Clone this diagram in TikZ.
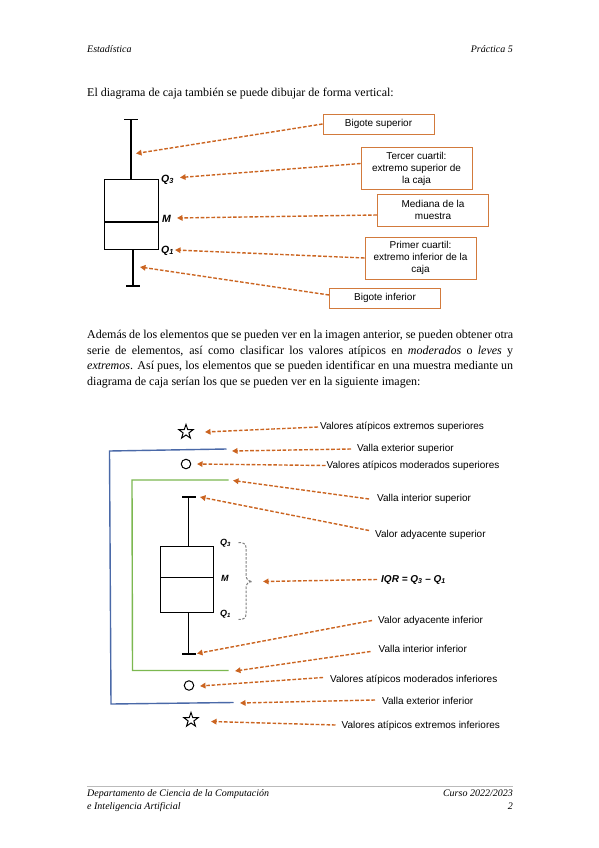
\documentclass[tikz,border=0pt]{standalone}
\usepackage{fontspec}
\setmainfont{Liberation Serif}
\setsansfont{Liberation Sans}
\usetikzlibrary{arrows.meta,shapes.geometric,decorations.pathreplacing}
\definecolor{arrc}{HTML}{CB6420}
\definecolor{boxc}{HTML}{D27A3C}
\definecolor{bluec}{HTML}{4A69A8}
\definecolor{greenc}{HTML}{7CB850}
\definecolor{rulec}{HTML}{BBBBBB}
\begin{document}
\begin{tikzpicture}[x=1pt,y=-1pt,
  arr/.style={draw=arrc, line width=1.4pt, dash pattern=on 3.6pt off 1.8pt, -{Triangle[length=5.5pt,width=5.5pt]}},
  lbox/.style={draw=boxc, line width=0.9pt, font=\sffamily\fontsize{10}{12}\selectfont, align=center, inner sep=0pt, minimum width=111pt},
  lab/.style={font=\sffamily\fontsize{10}{12}\selectfont, inner sep=0pt, anchor=west},
  qlab/.style={font=\sffamily\bfseries\itshape\fontsize{10.5}{11}\selectfont, inner sep=0pt, anchor=west},
  qlabs/.style={font=\sffamily\bfseries\itshape\fontsize{9}{10}\selectfont, inner sep=0pt, anchor=west},
  body/.style={font=\fontsize{12}{14}\selectfont, inner sep=0pt, anchor=base west},
  hdr/.style={font=\itshape\fontsize{10}{11}\selectfont, inner sep=0pt},
  bxp/.style={draw=black, line width=1.2pt},
  bxq/.style={draw=black, line width=1pt},
  whk/.style={draw=black, line width=1.5pt},
  fence/.style={line width=1.4pt},
  star5/.style={star, star points=5, star point ratio=2.5, draw=black, line width=1pt, minimum size=15pt, inner sep=0pt},
  dot/.style={circle, draw=black, line width=1pt, minimum size=9.5pt, inner sep=0pt}
]
\useasboundingbox[fill=white] (0,0) rectangle (599,848);

% header
\node[hdr, anchor=base west] (h1) at (87,53) {Estadística};
\node[hdr, anchor=base east] (h2) at (513,53) {Práctica 5};

\node[body] (t1) at (87,96.5) {El diagrama de caja también se puede dibujar de forma vertical:};

% ---------- first diagram ----------
\draw[whk] (124,119.5) -- (138,119.5);
\draw[whk] (131,119.5) -- (131,179.5);
\draw[bxp] (104.5,179.5) rectangle (158.5,249.5);
\draw[draw=black, line width=2pt] (104.5,221.5) -- (158.5,221.5);
\draw[whk] (133,249.5) -- (133,286);
\draw[whk] (126,286) -- (140,286);

\node[qlab] (q3a) at (161,179.5) {Q\textsubscript{3}};
\node[qlab] (ma) at (162,218.5) {M};
\node[qlab] (q1a) at (161,250.5) {Q\textsubscript{1}};

\node[lbox, minimum height=20pt] (bs) at (378.5,124) {Bigote superior};
\node[lbox, minimum height=42pt] (tc) at (416.5,168.5) {Tercer cuartil:\\extremo superior de\\la caja};
\node[lbox, minimum height=32pt] (md) at (433,210) {Mediana de la\\muestra};
\node[lbox, minimum height=42pt] (pc) at (420.5,258) {Primer cuartil:\\extremo inferior de la\\caja};
\node[lbox, minimum height=20pt] (bi) at (385,298) {Bigote inferior};

\coordinate (e1) at (136,153.5);
\coordinate (e2) at (180,177.5);
\coordinate (e3) at (177,218);
\coordinate (e4) at (175,250);
\coordinate (e5) at (140,267);
\draw[arr] (bs.west) -- (e1);
\draw[arr] ([yshift=5pt]tc.west) -- (e2);
\draw[arr] ([yshift=-5pt]md.west) -- (e3);
\draw[arr] (pc.west) -- (e4);
\draw[arr] ([yshift=3pt]bi.west) -- (e5);

% ---------- paragraph ----------
\node[body] (p1) at (87,338.5) {\makebox[426pt][s]{Además de los elementos que se pueden ver en la imagen anterior, se pueden obtener otra}};
\node[body] (p2) at (87,354) {\makebox[426pt][s]{serie de elementos, así como clasificar los valores atípicos en \textit{moderados} o \textit{leves} y}};
\node[body] (p3) at (87,369.5) {\makebox[426pt][s]{\textit{extremos}. Así pues, los elementos que se pueden identificar en una muestra mediante un}};
\node[body] (p4) at (87,385) {diagrama de caja serían los que se pueden ver en la siguiente imagen:};

% ---------- second diagram ----------
\draw[bluec, fence] (226.5,449) -- (109.5,451) -- (111,704) -- (233.5,702.5);
\draw[greenc, fence] (228.5,480) -- (132,480) -- (132.5,670.5) -- (228.5,670.5);

\draw[whk] (182,497) -- (196,497);
\draw[whk] (188.5,497) -- (188.5,546);
\draw[bxq] (160,546) rectangle (213,612.5);
\draw[bxq] (160,577.5) -- (213,577.5);
\draw[whk] (188.5,612.5) -- (188.5,654);
\draw[whk] (182,654) -- (196,654);

\node[qlabs] (q3b) at (220,543.5) {Q\textsubscript{3}};
\node[qlabs] (mb) at (221,578.5) {M};
\node[qlabs] (q1b) at (220,614.5) {Q\textsubscript{1}};
\draw[gray, line width=1pt, dash pattern=on 2.5pt off 1.5pt]
  (238.5,542.5) .. controls (243,542.5) and (246,543.5) .. (246,547.5)
  -- (246,575) .. controls (246,579) and (248,581) .. (252,581.5)
  .. controls (248,582) and (246,584) .. (246,588)
  -- (246,614.5) .. controls (246,618.5) and (243,619.5) .. (238.5,619.5);

\node[star5] (s1) at (186,432) {};
\node[dot] (c1) at (186,464) {};
\node[dot] (c2) at (189,685.5) {};
\node[star5] (s2) at (191,720) {};

\node[lab] (l1) at (320,427) {Valores atípicos extremos superiores};
\node[lab] (l2) at (357,449) {Valla exterior superior};
\node[lab] (l3) at (326.5,465.5) {Valores atípicos moderados superiores};
\node[lab] (l4) at (377,499) {Valla interior superior};
\node[lab] (l5) at (375,534.5) {Valor adyacente superior};
\node[font=\sffamily\bfseries\itshape\fontsize{10}{12}\selectfont, inner sep=0pt, anchor=west] (l6) at (381,579.5) {IQR = Q\textsubscript{3} – Q\textsubscript{1}};
\node[lab] (l7) at (378,620.5) {Valor adyacente inferior};
\node[lab] (l8) at (378.5,648.5) {Valla interior inferior};
\node[lab] (l9) at (330,680) {Valores atípicos moderados inferiores};
\node[lab] (l10) at (382,701) {Valla exterior inferior};
\node[lab] (l11) at (341.5,726) {Valores atípicos extremos inferiores};

\coordinate (f1) at (205,432);
\coordinate (f2) at (232,451);
\coordinate (f3) at (197,464);
\coordinate (f4) at (233,480.5);
\coordinate (f5) at (200,497);
\coordinate (f6) at (263,581.5);
\coordinate (f7) at (197,653.5);
\coordinate (f8) at (235,671);
\coordinate (f9) at (200,686);
\coordinate (f10) at (240,703);
\coordinate (f11) at (211,721.5);

\draw[arr] ([xshift=-2pt]l1.west) -- (f1);
\draw[arr] ([xshift=-6pt]l2.west) -- (f2);
\draw[arr] ([xshift=-1pt]l3.west) -- (f3);
\draw[arr] ([xshift=-8pt]l4.west) -- (f4);
\draw[arr] ([xshift=-6pt, yshift=4pt]l5.west) -- (f5);
\draw[arr] ([xshift=-4pt]l6.west) -- (f6);
\draw[arr] ([xshift=-6pt]l7.west) -- (f7);
\draw[arr] ([xshift=-8pt, yshift=-3pt]l8.west) -- (f8);
\draw[arr] ([xshift=-7pt, yshift=2.5pt]l9.west) -- (f9);
\draw[arr] ([xshift=-7pt, yshift=1pt]l10.west) -- (f10);
\draw[arr] ([xshift=-6pt, yshift=1pt]l11.west) -- (f11);

% ---------- footer ----------
\draw[rulec, line width=0.6pt] (87,786) -- (513,786);
\node[hdr, anchor=base west] (ft1) at (87,796) {Departamento de Ciencia de la Computación};
\node[hdr, anchor=base west] (ft2) at (87,809) {e Inteligencia Artificial};
\node[hdr, anchor=base east] (ft3) at (513,796) {Curso 2022/2023};
\node[hdr, anchor=base east] (ft4) at (513,809) {2};
\end{tikzpicture}
\end{document}
